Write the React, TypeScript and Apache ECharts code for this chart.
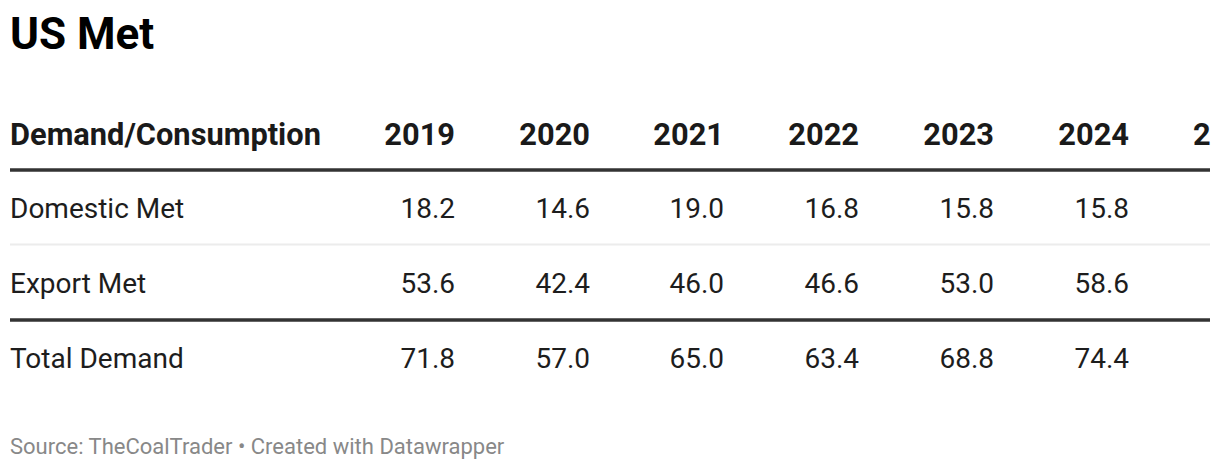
import React, { useEffect, useRef } from "react";
import * as echarts from "echarts";

const title = "US Met";
const headerLabel = "Demand/Consumption";
const years = ["2019", "2020", "2021", "2022", "2023", "2024"];
const clippedYear = "2";
const rowLabels = ["Domestic Met", "Export Met", "Total Demand"];
const domesticMet = [18.2, 14.6, 19.0, 16.8, 15.8, 15.8];
const exportMet = [53.6, 42.4, 46.0, 46.6, 53.0, 58.6];
const totalDemand = [71.8, 57.0, 65.0, 63.4, 68.8, 74.4];
const source = "Source: TheCoalTrader • Created with Datawrapper";

const FONT = "Roboto, 'Noto Sans', sans-serif";
const colRight = [455, 590, 724, 859, 994, 1129];
const rowY = [208, 283, 358];

export default function App() {
  const ref = useRef<HTMLDivElement>(null);
  useEffect(() => {
    if (!ref.current) return;
    const chart = echarts.init(ref.current, null, { renderer: "svg" });
    const rows = [domesticMet, exportMet, totalDemand];
    const els: any[] = [];
    els.push({
      type: "text",
      left: 10,
      top: 12,
      style: { text: title, font: `bold 44px ${FONT}`, fill: "#000" },
    });
    els.push({
      type: "text",
      x: 10,
      y: 134,
      style: { text: headerLabel, font: `bold 30.8px ${FONT}`, fill: "#1a1a1a", align: "left", verticalAlign: "middle" },
    });
    years.forEach((yr, i) => {
      els.push({
        type: "text",
        x: colRight[i],
        y: 134,
        style: { text: yr, font: `bold 30.8px ${FONT}`, fill: "#1a1a1a", align: "right", verticalAlign: "middle" },
      });
    });
    els.push({
      type: "text",
      x: 1193,
      y: 134,
      style: { text: clippedYear, font: `bold 30.8px ${FONT}`, fill: "#1a1a1a", align: "left", verticalAlign: "middle" },
    });
    // lines
    els.push({ type: "line", shape: { x1: 10, y1: 170, x2: 1210, y2: 170 }, style: { stroke: "#333", lineWidth: 3.5 } });
    els.push({ type: "line", shape: { x1: 10, y1: 244.5, x2: 1210, y2: 244.5 }, style: { stroke: "#ececec", lineWidth: 2 } });
    els.push({ type: "line", shape: { x1: 10, y1: 320, x2: 1210, y2: 320 }, style: { stroke: "#333", lineWidth: 3.5 } });
    rowLabels.forEach((lab, r) => {
      els.push({
        type: "text",
        x: 10,
        y: rowY[r],
        style: { text: lab, font: `28px ${FONT}`, fill: "#1d1d1d", align: "left", verticalAlign: "middle" },
      });
      rows[r].forEach((v, i) => {
        els.push({
          type: "text",
          x: colRight[i],
          y: rowY[r],
          style: { text: v.toFixed(1), font: `28px ${FONT}`, fill: "#1d1d1d", align: "right", verticalAlign: "middle" },
        });
      });
    });
    els.push({
      type: "text",
      x: 10,
      y: 446,
      style: { text: source, font: `22px ${FONT}`, fill: "#888", align: "left", verticalAlign: "middle" },
    });
    chart.setOption({ animation: false, graphic: { elements: els } });
    return () => chart.dispose();
  }, []);
  return <div ref={ref} style={{ position: "absolute", left: 0, top: 0, width: 1220, height: 470, background: "#fff" }} />;
}
